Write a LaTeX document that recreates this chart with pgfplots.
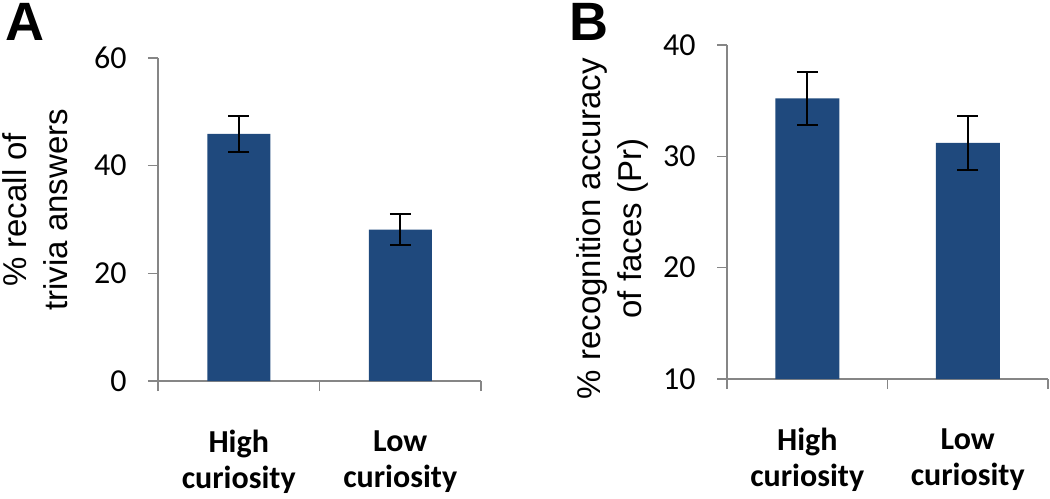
\documentclass[border=0pt]{standalone}
\usepackage{pgfplots}
\pgfplotsset{compat=1.18}
\usepackage{fontspec}
\setmainfont{Carlito}
\newfontfamily\arialfont{Liberation Sans}
\definecolor{barblue}{RGB}{31,73,125}
\definecolor{axgray}{RGB}{134,134,134}
\begin{document}
\begin{tikzpicture}[x=1bp,y=1bp]
\pgfplotsset{
  myaxis/.style={
    scale only axis,
    axis x line=bottom, axis y line=left,
    axis line style={-, draw=axgray, line width=1.6bp},
    every tick/.style={draw=axgray, line width=1.6bp},
    tick align=outside,
    major tick length=10bp,
    xmin=-0.5, xmax=1.5,
    xtick={-0.5,0.5,1.5}, xticklabels={},
    extra x ticks={0,1},
    extra x tick labels={High\\curiosity, Low\\curiosity},
    extra x tick style={major tick length=0pt, tick label style={align=center, font=\fontsize{32bp}{36bp}\selectfont\bfseries, yshift=-46bp}},
    yticklabel style={font=\fontsize{32bp}{36bp}\selectfont, xshift=-18bp},
    /pgf/number format/assume math mode=true,
    ylabel style={align=center, font=\arialfont\fontsize{33bp}{41bp}\selectfont, anchor=center, rotate=0},
    ybar, bar width=63bp,
    clip=false,
  },
  myerr/.style={
    draw=none, fill=barblue,
    error bars/.cd, y dir=both, y explicit,
    error bar style={black, line width=2bp},
    error mark options={rotate=90, mark size=10.5bp, black, line width=2bp},
  }
}
\begin{axis}[myaxis,
  at={(158bp,118bp)}, anchor=south west,
  width=323bp, height=323bp,
  ymin=0, ymax=60, ytick={0,20,40,60},
  ylabel={\% recall of\\trivia answers},
  ylabel style={at={(axis description cs:-0.381,0.53)}},
]
\addplot+[myerr] coordinates {(0,45.9) +- (0,3.3) (1,28.1) +- (0,2.9)};
\node[font=\arialfont\fontsize{54bp}{54bp}\selectfont\bfseries] at (axis description cs:-0.412,1.111) {A};
\end{axis}
\begin{axis}[myaxis,
  at={(727bp,120bp)}, anchor=south west,
  width=321bp, height=334bp,
  ymin=10, ymax=40, ytick={10,20,30,40},
  bar width=64bp,
  ylabel={\% recognition accuracy\\of faces (Pr)},
  ylabel style={at={(axis description cs:-0.358,0.45)}},
]
\addplot+[myerr] coordinates {(0,35.2) +- (0,2.4) (1,31.2) +- (0,2.4)};
\node[font=\arialfont\fontsize{54bp}{54bp}\selectfont\bfseries] at (axis description cs:-0.43,1.069) {B};
\end{axis}
\pgfresetboundingbox
\path[use as bounding box] (0,0) rectangle (1050bp,499bp);
\end{tikzpicture}
\end{document}
